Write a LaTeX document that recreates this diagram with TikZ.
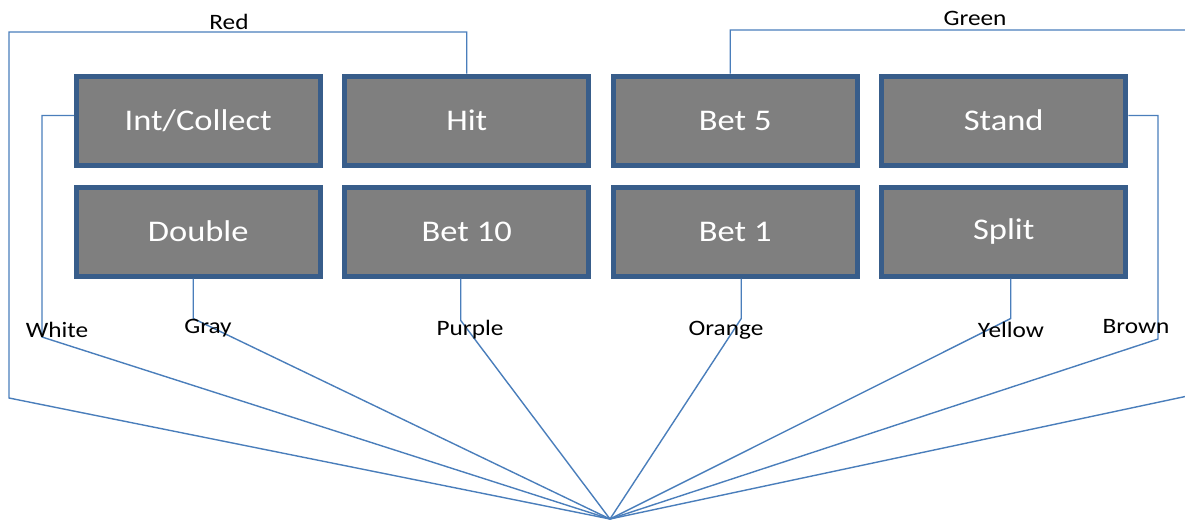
\documentclass[tikz,border=0pt]{standalone}
\usepackage{fontspec}
\setmainfont{Carlito}[FakeStretch=1.15]
\usetikzlibrary{matrix}
\definecolor{wireblue}{HTML}{4A7EBB}
\definecolor{keyedge}{HTML}{385D8A}
\definecolor{keyfill}{HTML}{7F7F7F}

\begin{document}
\begin{tikzpicture}[x=1pt, y=-1pt,
  wire/.style={draw=wireblue, line width=1.4pt},
  tag/.style={font=\fontsize{22}{24}\selectfont, text=black, inner sep=0pt}]
\useasboundingbox (0,0) rectangle (1185,519);
\clip (0,0) rectangle (1185,519);

\matrix (pad) at (601,176) [column sep=19.5pt, row sep=17pt, every node/.style={
    shape=rectangle,
    minimum width=244pt,
    minimum height=89pt,
    text centered,
    font=\fontsize{30}{32}\selectfont,
    line width=5pt,
    text=white,
    draw=keyedge,
    fill=keyfill,
}] {
  \node (intcollect) {Int/Collect}; &
  \node (hit) {Hit}; &
  \node (betfive) {Bet 5}; &
  \node (stand) {Stand}; \\

  \node (double) {Double}; &
  \node (betten) {Bet 10}; &
  \node (betone) {Bet 1}; &
  \node (split) {Split}; \\
};

% corners of the wires
\coordinate (apex) at (610,519);
\coordinate (redcorner) at (9,32);
\coordinate (redfoot) at (9,398);
\coordinate (greencorner) at (1197,30);
\coordinate (greenfoot) at (1197,394);
\coordinate (whitefoot) at (42,337);
\coordinate (brownfoot) at (1158,339);

\begin{scope}[wire]
  \draw (hit.north) |- (redcorner) -- (redfoot) -- (apex);
  \draw ([xshift=-5pt]betfive.north) |- (greencorner) -- (greenfoot) -- (apex);
  \draw ([yshift=5pt]intcollect.west) -| (whitefoot) -- (apex);
  \draw ([yshift=5pt]stand.east) -| (brownfoot) -- (apex);
  \draw ([xshift=-5pt]double.south) -- ++(0,40) -- (apex);
  \draw ([xshift=-6pt]betten.south) -- ++(0,42) -- (apex);
  \draw ([xshift=6pt]betone.south) -- ++(0,40) -- (apex);
  \draw ([xshift=7pt]split.south) -- ++(0,40) -- (apex);
\end{scope}

\node[tag] (redtag) at (229,22) {Red};
\node[tag] (greentag) at (975,18) {Green};
\node[tag] (whitetag) at (57,330) {White};
\node[tag] (graytag) at (208,328) {Gray};
\node[tag] (purpletag) at (470,330) {Purple};
\node[tag] (orangetag) at (726,330) {Orange};
\node[tag] (yellowtag) at (1011,330) {Yellow};
\node[tag] (browntag) at (1136,327) {Brown};

\end{tikzpicture}
\end{document}
